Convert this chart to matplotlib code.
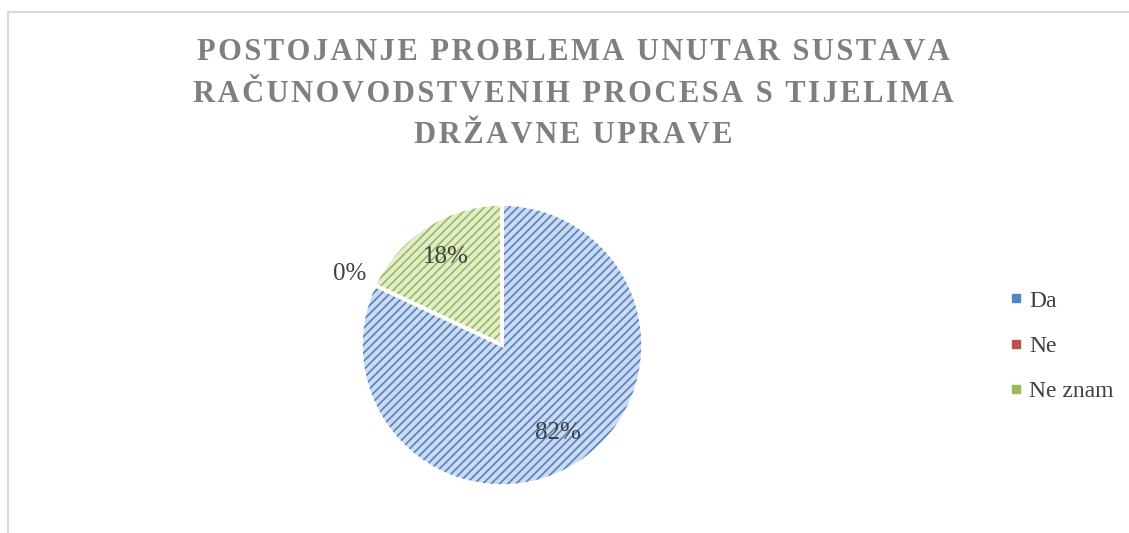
import numpy as np
import matplotlib.pyplot as plt
from matplotlib.patches import Wedge
from matplotlib.lines import Line2D

plt.rcParams['hatch.linewidth'] = 1.25

# podaci
labels = ['Da', 'Ne', 'Ne znam']
values = [82, 0, 18]
fill_colors = ['#cddaef', '#e8b9b8', '#e2ecce']
hatch_colors = ['#5585c4', '#c0504d', '#9bbb59']
title_lines = ['POSTOJANJE PROBLEMA UNUTAR SUSTAVA',
               'RAČUNOVODSTVENIH PROCESA S TIJELIMA',
               'DRŽAVNE UPRAVE']

W, H = 1129, 533
fig = plt.figure(figsize=(W / 100, H / 100), dpi=100)

# okvir grafikona (samo lijevi i gornji rub su vidljivi)
fig.add_artist(Line2D([8 / W, 8 / W], [0, 1 - 12 / H], color='#d9d9d9', lw=1.5))
fig.add_artist(Line2D([8 / W, 1], [1 - 12 / H, 1 - 12 / H], color='#d9d9d9', lw=1.5))

cx, cy, r = 502, 345, 141
ax = fig.add_axes([(cx - r) / W, (H - cy - r) / H, 2 * r / W, 2 * r / H])

wedges, texts, autotexts = ax.pie(
    values, colors=fill_colors, startangle=90, counterclock=False,
    autopct='%1.0f%%', pctdistance=0.74,
    wedgeprops=dict(edgecolor='white', linewidth=2.5),
    textprops=dict(fontsize=18, color='#404040', family='Liberation Serif'))

# srafura preko isjecaka
for w, hc in zip(wedges, hatch_colors):
    ax.add_patch(Wedge(w.center, w.r, w.theta1, w.theta2, fill=False,
                       hatch='////', edgecolor=hc, linewidth=0, zorder=w.zorder + 0.1))
    ax.add_patch(Wedge(w.center, w.r, w.theta1, w.theta2, fill=False,
                       edgecolor='white', linewidth=2.5, zorder=w.zorder + 0.2))

# oznaka za 0% ide izvan kruga
for w, t, v in zip(wedges, autotexts, values):
    t.set_zorder(5)
    if v == 0:
        ang = np.deg2rad((w.theta1 + w.theta2) / 2)
        t.set_position((1.19 * np.cos(ang), 1.19 * np.sin(ang)))

ax.set_xlim(-1, 1)
ax.set_ylim(-1, 1)
ax.set_aspect('equal')

# naslov s razmakom izmedu slova
spaced = '\n'.join('\u200a'.join(line) for line in title_lines)
fig.text(573 / W, 1 - 94 / H, spaced, ha='center', va='center',
         fontsize=22, fontweight='bold', color='#7f7f7f',
         family=['Liberation Serif', 'DejaVu Serif'], linespacing=1.58)

handles = [Line2D([], [], marker='s', linestyle='none', markersize=6,
                  markerfacecolor=c, markeredgecolor=c) for c in hatch_colors]
fig.legend(handles, labels, loc='center left', bbox_to_anchor=(988 / W, 1 - 346 / H),
           frameon=False, handlelength=0.6, handletextpad=0.25, labelspacing=1.0,
           prop=dict(family='Liberation Serif', size=17), labelcolor='#404040')

fig.savefig('out.png', dpi=100)
